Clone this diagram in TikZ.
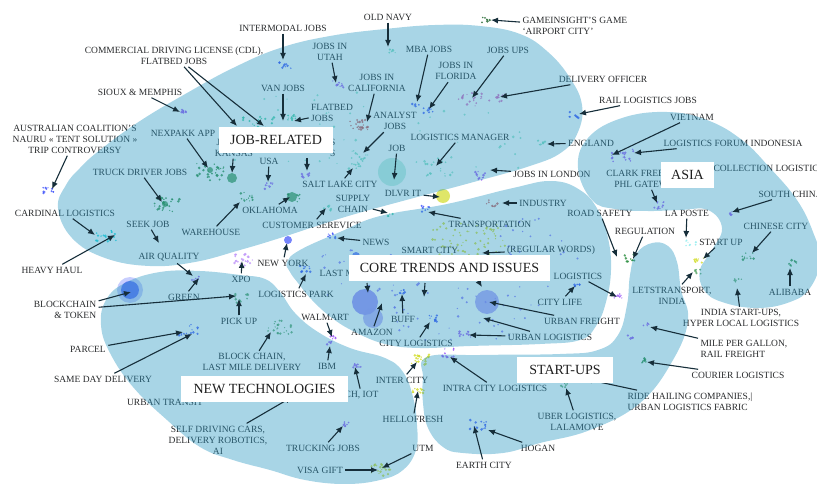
\documentclass[tikz,border=0pt]{standalone}
\usepackage{fontspec}
\setmainfont{Liberation Serif}
\usetikzlibrary{arrows.meta}

\definecolor{blobblue}{RGB}{38,150,193}
\definecolor{tagink}{RGB}{40,42,44}
\definecolor{arrowink}{RGB}{22,46,58}
\definecolor{dotpurple}{RGB}{150,80,245}
\definecolor{dotblue}{RGB}{60,80,250}
\definecolor{dotlav}{RGB}{130,110,250}
\definecolor{dotteal}{RGB}{60,205,160}
\definecolor{dotgreen}{RGB}{40,140,60}
\definecolor{dotpink}{RGB}{215,100,190}
\definecolor{dotred}{RGB}{200,80,80}
\definecolor{dotlime}{RGB}{210,220,40}
\definecolor{dotcyan}{RGB}{20,215,220}

\tikzset{
  tag/.style={
    font=\fontsize{9.5}{11}\selectfont,
    text=tagink,
    inner sep=1pt,
    outer sep=1.5pt,
    align=center,
  },
  cat box/.style={
    fill=white,
    text=black!88,
    font=\fontsize{14}{16}\selectfont,
    inner xsep=9pt,
    inner ysep=0pt,
    minimum height=26pt,
  },
  blob/.style={
    fill=blobblue,
    fill opacity=.4,
  },
  arr/.style={
    draw=arrowink,
    line width=1.1pt,
    -{Latex[length=7pt,width=6pt]},
  },
  big dot/.style={
    fill=#1,
    fill opacity=.7,
  },
}

\newcommand\cluster[5]{%
  \foreach \k in {1,...,#4}
    \fill [#5, fill opacity=.8] ({#1+#3*rand},{#2+.6*#3*rand}) circle ({.6+.9*rnd});
}

\begin{document}
\begin{tikzpicture}[x=1pt,y=-1pt]
        \pgfmathsetseed{11}
        \useasboundingbox (0,0) rectangle (817,484);

        \cluster{300}{125}{70}{30}{dotteal!60}
        \cluster{470}{140}{55}{22}{dotteal!60}
        \cluster{360}{272}{40}{22}{dotlav}
        \cluster{450}{305}{60}{40}{dotlav}
        \cluster{540}{240}{40}{22}{dotlav}
        \cluster{530}{300}{40}{16}{dotlav}
        \cluster{470}{245}{38}{90}{dotlime}
        \cluster{285}{66}{6}{10}{dotblue}
        \cluster{392}{51}{4}{6}{dotteal!70}
        \cluster{486}{20}{5}{7}{dotgreen!70!black}
        \cluster{258}{124}{16}{28}{dotteal}
        \cluster{291}{118}{6}{10}{dotteal}
        \cluster{182}{111}{4}{8}{dotpurple}
        \cluster{48}{190}{6}{12}{dotblue}
        \cluster{210}{172}{14}{28}{dotgreen}
        \fill [big dot=dotgreen] (232,178) circle (5);
        \fill [big dot=dotgreen] (210,170) circle (3);
        \cluster{338}{84}{6}{8}{dotpurple}
        \cluster{360}{125}{10}{22}{dotred}
        \cluster{360}{155}{8}{10}{dotteal!70}
        \cluster{415}{105}{4}{6}{dotblue}
        \cluster{428}{110}{5}{8}{dotblue}
        \cluster{470}{100}{12}{20}{dotpink}
        \cluster{497}{97}{8}{12}{dotpink}
        \cluster{574}{115}{5}{8}{dotblue}
        \cluster{437}{167}{15}{15}{dotteal!70}
        \fill [big dot=dotteal!40] (392,172) circle (14);
        \cluster{542}{143}{4}{6}{dotteal!70}
        \cluster{268}{186}{5}{8}{dotpurple}
        \cluster{355}{165}{8}{10}{dotteal!70}
        \cluster{306}{175}{5}{8}{dotpurple}
        \cluster{167}{205}{13}{28}{dotgreen}
        \fill [big dot=dotgreen] (165,204) circle (3);
        \cluster{292}{197}{8}{10}{dotgreen}
        \fill [big dot=dotgreen] (292,197) circle (5);
        \cluster{245}{197}{8}{12}{dotgreen}
        \cluster{327}{208}{5}{8}{dotteal!70}
        \cluster{390}{215}{3}{4}{dotteal}
        \fill [big dot=dotlime] (443,196) circle (7);
        \cluster{480}{176}{8}{12}{dotpurple}
        \cluster{492}{203}{6}{8}{dotred}
        \cluster{425}{208}{6}{8}{dotblue}
        \cluster{332}{236}{5}{8}{dotblue}
        \fill [big dot=dotblue] (356,256) circle (4);
        \cluster{243}{260}{10}{22}{dotpurple!60}
        \fill [big dot=dotblue] (288,240) circle (4);
        \cluster{196}{278}{4}{6}{dotpurple}
        \fill [big dot=dotblue!40] (130,290) circle (13);
        \fill [big dot=dotblue] (130,290) circle (9);
        \cluster{240}{298}{8}{12}{dotgreen!80}
        \cluster{305}{270}{8}{12}{dotblue}
        \cluster{618}{297}{5}{8}{dotpurple}
        \cluster{577}{285}{4}{6}{dotblue}
        \cluster{433}{318}{6}{10}{dotblue}
        \cluster{465}{334}{6}{10}{dotpurple}
        \fill [big dot=dotlav!80] (487,302) circle (12);
        \fill [big dot=dotlav] (365,302) circle (13);
        \fill [big dot=dotlav!70] (373,318) circle (10);
        \cluster{400}{292}{5}{8}{dotblue}
        \cluster{333}{338}{3}{5}{dotpurple}
        \cluster{330}{343}{3}{5}{dotpurple}
        \cluster{357}{365}{4}{8}{dotpurple}
        \cluster{420}{360}{10}{22}{dotlime}
        \cluster{418}{390}{6}{12}{dotlime}
        \cluster{448}{353}{8}{12}{dotpurple}
        \cluster{345}{425}{5}{8}{dotpurple}
        \cluster{380}{470}{10}{22}{dotlime}
        \cluster{478}{425}{9}{16}{dotblue}
        \cluster{565}{385}{4}{6}{dotgreen!80}
        \cluster{646}{325}{4}{6}{dotpurple}
        \cluster{630}{337}{3}{4}{dotpurple}
        \cluster{645}{360}{5}{8}{dotgreen}
        \cluster{738}{280}{4}{6}{dotgreen!80}
        \cluster{793}{263}{5}{8}{dotgreen}
        \cluster{748}{256}{6}{10}{dotgreen}
        \cluster{733}{214}{4}{6}{dotpurple}
        \cluster{660}{205}{6}{10}{dotpurple}
        \cluster{690}{243}{6}{8}{dotcyan!50}
        \cluster{699}{260}{5}{8}{dotlime}
        \cluster{697}{272}{4}{6}{dotgreen!80}
        \cluster{622}{156}{12}{18}{dotpurple}
        \cluster{630}{258}{6}{10}{dotgreen}
        \cluster{188}{330}{10}{14}{dotblue}
        \cluster{280}{327}{12}{22}{dotgreen!80}
        \cluster{106}{236}{10}{18}{dotcyan}

        \node [tag] (intermodal) at (283,28) {INTERMODAL JOBS};
        \node [tag] (oldnavy) at (388,17) {OLD NAVY};
        \node [tag, align=left, anchor=west] (game) at (520,26) {GAMEINSIGHT’S GAME\\‘AIRPORT CITY’};
        \node [tag] (cdl) at (174,55.5) {COMMERCIAL DRIVING LICENSE (CDL),\\FLATBED JOBS};
        \node [tag] (sioux) at (140,92) {SIOUX \& MEMPHIS};
        \node [tag] (nauru) at (75,139) {AUSTRALIAN COALITION’S\\NAURU « TENT SOLUTION »\\TRIP CONTROVERSY};
        \node [tag] (nexpakk) at (183,133) {NEXPAKK APP};
        \node [tag] (kansas) at (234,147.5) {JOBS IN\\KANSAS};
        \node [tag, anchor=east] (hids) at (338,147.5) {S\\S};
        \node [tag] (vanjobs) at (283,88) {VAN JOBS};
        \node [tag, align=left] (flatbed) at (332,113) {FLATBED\\JOBS};
        \node [tag] (utah) at (330,51.5) {JOBS IN\\UTAH};
        \node [tag] (california) at (377,82.5) {JOBS IN\\CALIFORNIA};
        \node [tag] (analyst) at (395,121) {ANALYST\\JOBS};
        \node [tag] (mba) at (429,49) {MBA JOBS};
        \node [tag] (florida) at (456,71) {JOBS IN\\FLORIDA};
        \node [tag] (ups) at (508,50) {JOBS UPS};
        \node [tag] (officer) at (603,79) {DELIVERY OFFICER};
        \node [tag] (rail) at (648,100) {RAIL LOGISTICS JOBS};
        \node [tag] (manager) at (460,137) {LOGISTICS MANAGER};
        \node [tag] (job) at (397,148) {JOB};
        \node [tag] (england) at (591,143) {ENGLAND};
        \node [tag] (usa) at (269,161) {USA};
        \node [tag] (saltlake) at (340,184) {SALT LAKE CITY};
        \node [tag] (truckdriver) at (140,172) {TRUCK DRIVER JOBS};
        \node [tag] (oklahoma) at (270,210) {OKLAHOMA};
        \node [tag] (warehouse) at (211,232) {WAREHOUSE};
        \node [tag] (customer) at (312,225) {CUSTOMER SEREVICE};
        \node [tag] (supply) at (353,204) {SUPPLY\\CHAIN};
        \node [tag] (dlvr) at (403,193) {DLVR IT};
        \node [tag] (london) at (552,174) {JOBS IN LONDON};
        \node [tag] (industry) at (543,203) {INDUSTRY};
        \node [tag] (transport) at (490,224) {TRANSPORTATION};
        \node [tag] (news) at (376,242) {NEWS};
        \node [tag] (newyork) at (283,263) {NEW YORK};
        \node [tag] (xpo) at (241,279) {XPO};
        \node [tag] (airq) at (169,257) {AIR QUALITY};
        \node [tag] (green) at (184,297) {GREEN};
        \node [tag, align=right] (blockchain) at (65,310) {BLOCKCHAIN\\\& TOKEN};
        \node [tag] (pickup) at (239,321) {PICK UP};
        \node [tag] (logpark) at (296,294) {LOGISTICS PARK};
        \node [tag, anchor=west] (lastmile) at (317,273) {LAST MILE};
        \node [tag] (smartcity) at (430,250) {SMART CITY};
        \node [tag] (regular) at (551,250) {(REGULAR WORDS)};
        \node [tag] (logistics) at (578,276) {LOGISTICS};
        \node [tag] (citylife) at (560,302) {CITY LIFE};
        \node [tag] (urbfreight) at (582,321) {URBAN FREIGHT};
        \node [tag] (urblog) at (550,337) {URBAN LOGISTICS};
        \node [tag] (citylog) at (416,343) {CITY LOGISTICS};
        \node [tag] (amazon) at (372,332) {AMAZON};
        \node [tag] (buff) at (403,319) {BUFF};
        \node [tag] (walmart) at (325,317) {WALMART};
        \node [tag] (ibm) at (327,366) {IBM};
        \node [tag, anchor=east] (iot) at (381,395) {CH, IOT};
        \node [tag] (intercity) at (402,380) {INTER CITY};
        \node [tag] (hellofresh) at (413,419) {HELLOFRESH};
        \node [tag] (intracity) at (495,388) {INTRA CITY LOGISTICS};
        \node [tag] (trucking) at (323,448) {TRUCKING JOBS};
        \node [tag] (utm) at (423,448) {UTM};
        \node [tag] (visa) at (320,470) {VISA GIFT};
        \node [tag] (earth) at (484,465) {EARTH CITY};
        \node [tag] (hogan) at (538,448) {HOGAN};
        \node [tag] (uber) at (577,421.5) {UBER LOGISTICS,\\LALAMOVE};
        \node [tag, align=left, anchor=west] (ridehail) at (625,401.5) {RIDE HAILING COMPANIES,|\\URBAN LOGISTICS FABRIC};
        \node [tag, align=left, anchor=west] (gallon) at (698,349) {MILE PER GALLON,\\RAIL FREIGHT};
        \node [tag] (courier) at (738,375) {COURIER LOGISTICS};
        \node [tag] (indiastart) at (741,318) {INDIA START-UPS,\\HYPER LOCAL LOGISTICS};
        \node [tag] (alibaba) at (790,292) {ALIBABA};
        \node [tag] (chinese) at (776,226) {CHINESE CITY};
        \node [tag, anchor=west] (southchina) at (756,194) {SOUTH CHINA};
        \node [tag, anchor=west] (collection) at (711,168) {COLLECTION LOGISTICS};
        \node [tag] (clark) at (647,178.5) {CLARK FREEPORT\\PHL GATEWAY};
        \node [tag] (laposte) at (687,213) {LA POSTE};
        \node [tag] (startup) at (721,242) {START UP};
        \node [tag] (letstransport) at (672,295.5) {LETSTRANSPORT,\\INDIA};
        \node [tag] (vietnam) at (692,117) {VIETNAM};
        \node [tag] (indonesia) at (733,143) {LOGISTICS FORUM INDONESIA};
        \node [tag] (regulation) at (645,231) {REGULATION};
        \node [tag] (roadsafety) at (600,213) {ROAD SAFETY};
        \node [tag] (parcel) at (88,349) {PARCEL};
        \node [tag] (sameday) at (103,379) {SAME DAY DELIVERY};
        \node [tag] (urbtransit) at (165,402) {URBAN TRANSIT};
        \node [tag] (selfdriving) at (218,440) {SELF DRIVING CARS,\\DELIVERY ROBOTICS,\\AI};
        \node [tag] (blocklast) at (252,362) {BLOCK CHAIN,\\LAST MILE DELIVERY};
        \node [tag] (cardinal) at (65,213) {CARDINAL LOGISTICS};
        \node [tag] (heavyhaul) at (52,270) {HEAVY HAUL};
        \node [tag] (seekjob) at (148,224) {SEEK JOB};

        \fill [blob] plot [smooth cycle, tension=.7] coordinates {
          (58,208) (66,185) (80,168) (100,150) (140,121) (187,93) (233,68)
          (280,48) (330,36) (385,29) (435,25) (480,26) (520,34) (548,52)
          (570,78) (582,105) (578,132) (562,152) (530,166) (470,183)
          (410,199) (345,217) (280,238) (240,250) (195,262) (150,266)
          (105,258) (72,238)};
        \fill [blob] plot [smooth cycle, tension=.7] coordinates {
          (287,262) (300,250) (340,232) (380,216) (447,204) (513,188)
          (552,181) (580,190) (598,210) (608,238) (611,270) (606,302)
          (596,326) (580,340) (540,344) (470,346) (420,348) (385,344)
          (355,332) (332,318) (312,300) (298,283) (290,272)};
        \fill [blob] plot [smooth cycle, tension=.7] coordinates {
          (101,325) (106,300) (125,283) (160,272) (200,271) (240,275)
          (265,279) (280,292) (295,313) (318,332) (350,348) (385,358)
          (403,372) (413,397) (417,425) (416,450) (403,470) (380,480)
          (345,484) (305,480) (270,470) (233,460) (200,447) (167,420)
          (133,387) (110,353)};
        \fill [blob] plot [smooth cycle, tension=.7] coordinates {
          (427,357) (480,355) (560,354) (598,350) (618,335) (627,305)
          (630,275) (636,254) (652,243) (668,246) (677,262) (681,290)
          (688,320) (673,360) (640,403) (590,430) (540,443) (503,453)
          (463,453) (443,447) (428,428) (423,403) (423,378)};
        \fill [blob] plot [smooth cycle, tension=.7] coordinates {
          (578,168) (588,138) (622,118) (667,112) (707,120) (742,140)
          (770,168) (797,200) (813,232) (820,260) (810,288) (790,302)
          (757,308) (722,302) (704,290) (700,270) (712,250) (722,228)
          (708,210) (680,210) (648,211) (615,209) (592,200)};

        \coordinate (hids-s) at (307,158);
        \coordinate (core-a) at (367,283);
        \coordinate (core-b) at (425,283);
        \coordinate (core-c) at (477,279);

        \draw [arr] (intermodal) -- (283,60);
        \draw [arr] (oldnavy) -- (388,47);
        \draw [arr] (game) -- (491,20);
        \draw [arr] (cdl) -- (237,126);
        \draw [arr] (cdl) -- (264,126);
        \draw [arr] (sioux) -- (180,112);
        \draw [arr] (nauru) -- (52,189);
        \draw [arr] (nexpakk) -- (208,168);
        \draw [arr] (kansas) -- (232,173);
        \draw [arr] (hids-s) -- (307,171);
        \draw [arr] (vanjobs) -- (283,121);
        \draw [arr] (flatbed) -- (294,121);
        \draw [arr] (utah) -- (336,83);
        \draw [arr] (california) -- (367,122);
        \draw [arr] (analyst) -- (363,153);
        \draw [arr] (mba) -- (417,102);
        \draw [arr] (florida) -- (429,109);
        \draw [arr] (ups) -- (472,98);
        \draw [arr] (officer) -- (500,97);
        \draw [arr] (rail) -- (579,114);
        \draw [arr] (manager) -- (436,166);
        \draw [arr] (job) -- (394,180);
        \draw [arr] (england) -- (547,144);
        \draw [arr] (usa) -- (268,182);
        \draw [arr] (saltlake) -- (353,168);
        \draw [arr] (truckdriver) -- (162,202);
        \draw [arr] (oklahoma) -- (290,197);
        \draw [arr] (warehouse) -- (240,202);
        \draw [arr] (customer) -- (326,208);
        \draw [arr] (supply) -- (388,213);
        \draw [arr] (dlvr) -- (440,197);
        \draw [arr] (london) -- (490,170);
        \draw [arr] (industry) -- (502,203);
        \draw [arr] (transport) -- (428,212);
        \draw [arr] (news) -- (337,238);
        \draw [arr] (newyork) -- (287,243);
        \draw [arr] (xpo) -- (242,261);
        \draw [arr] (airq) -- (193,276);
        \draw [arr] (green) -- (199,278);
        \draw [arr] (blockchain) -- (131,292);
        \draw [arr] (blockchain) -- (236,296);
        \draw [arr] (pickup) -- (239,299);
        \draw [arr] (logpark) -- (306,274);
        \draw [arr] (regular) -- (482,253);
        \draw [arr] (logistics) -- (617,297);
        \draw [arr] (citylife) -- (575,286);
        \draw [arr] (urbfreight) -- (489,302);
        \draw [arr] (urblog) -- (469,335);
        \draw [arr] (urblog) -- (483,318);
        \draw [arr] (citylog) -- (430,322);
        \draw [arr] (amazon) -- (382,303);
        \draw [arr] (buff) -- (402,294);
        \draw [arr] (core-a) -- (368,293);
        \draw [arr] (core-b) -- (424,297);
        \draw [arr] (core-c) -- (482,287);
        \draw [arr] (walmart) -- (332,337);
        \draw [arr] (ibm) -- (330,346);
        \draw [arr] (iot) -- (355,367);
        \draw [arr] (intercity) -- (417,362);
        \draw [arr] (hellofresh) -- (418,391);
        \draw [arr] (intracity) -- (450,357);
        \draw [arr] (trucking) -- (343,426);
        \draw [arr] (utm) -- (382,468);
        \draw [arr] (visa) -- (378,470);
        \draw [arr] (earth) -- (474,426);
        \draw [arr] (hogan) -- (488,430);
        \draw [arr] (uber) -- (566,388);
        \draw [arr] (ridehail) -- (585,379);
        \draw [arr] (gallon) -- (650,327);
        \draw [arr] (courier) -- (647,362);
        \draw [arr] (indiastart) -- (737,288);
        \draw [arr] (alibaba) -- (790,268);
        \draw [arr] (chinese) -- (752,253);
        \draw [arr] (southchina) -- (732,212);
        \draw [arr] (clark) -- (657,203);
        \draw [arr] (laposte) -- (686,238);
        \draw [arr] (startup) -- (703,259);
        \draw [arr] (letstransport) -- (693,272);
        \draw [arr] (vietnam) -- (612,155);
        \draw [arr] (indonesia) -- (634,153);
        \draw [arr] (regulation) -- (633,259);
        \draw [arr] (roadsafety) -- (617,257);
        \draw [arr] (parcel) -- (183,332);
        \draw [arr] (sameday) -- (192,334);
        \draw [arr] (selfdriving) -- (292,397);
        \draw [arr] (blocklast) -- (271,332);
        \draw [arr] (cardinal) -- (95,235);
        \draw [arr] (heavyhaul) -- (115,235);
        \draw [arr] (seekjob) -- (159,243);

        \node [cat box, minimum width=114pt] (jobcat) at (276,140) {JOB-RELATED};
        \node [cat box, minimum width=201pt] (corecat) at (449.5,267.5) {CORE TRENDS AND ISSUES};
        \node [cat box, minimum width=167pt] (techcat) at (264.5,389) {NEW TECHNOLOGIES};
        \node [cat box, minimum width=96pt] (startcat) at (565,370) {START-UPS};
        \node [cat box, minimum width=53pt] (asiacat) at (687.5,175) {ASIA};
      \end{tikzpicture}
\end{document}
